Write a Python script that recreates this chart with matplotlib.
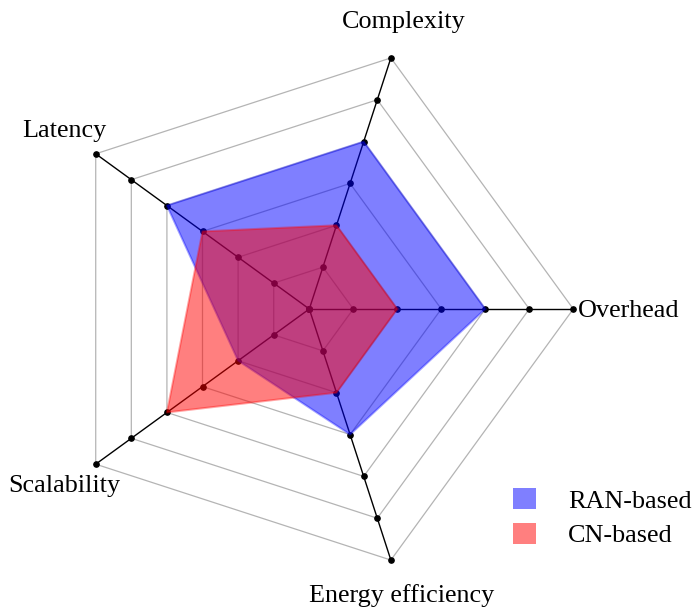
import numpy as np
import matplotlib
matplotlib.use("Agg")
import matplotlib.pyplot as plt
from matplotlib.patches import Patch

categories = ["Overhead", "Complexity", "Latency", "Scalability", "Energy efficiency"]
ran_based = [4, 4, 4, 2, 3]
cn_based = [2, 2, 3, 4, 2]
levels = [0, 1, 2, 3, 4, 5, 6]

plt.rcParams["font.family"] = ["Liberation Serif", "DejaVu Serif"]

n = len(categories)
angles = np.linspace(0, 2 * np.pi, n, endpoint=False)
ang_closed = np.append(angles, angles[0])

fig = plt.figure(figsize=(6.97, 6.11), dpi=100)
# center at (309, 309) px, outer radius 264 px
ax = fig.add_axes([45.3 / 697, 38 / 611, 528 / 697, 528 / 611], projection="polar")
ax.set_ylim(0, 6)
ax.grid(False)
ax.spines["polar"].set_visible(False)
ax.set_xticks([])
ax.set_yticks([])
ax.patch.set_visible(False)

# grey pentagon rings
for lv in levels[1:]:
    ax.plot(ang_closed, [lv] * (n + 1), color="#b4b4b4", lw=0.9, zorder=1)

# black spokes with dots
for a in angles:
    ax.plot([a] * len(levels), levels, color="black", lw=1.0, marker="o",
            markersize=3.8, zorder=2, clip_on=False)

# data polygons
for vals, col in [(ran_based, (0, 0, 1)), (cn_based, (1, 0, 0))]:
    v = vals + vals[:1]
    ax.fill(ang_closed, v, color=col, alpha=0.5, lw=0, zorder=3)
    ax.plot(ang_closed, v, color=col, alpha=0.35, lw=1.5, zorder=3)

# axis labels (angle in degrees, radius, ha)
label_pos = {
    "Overhead": (-1.7, 6.11, "left"),
    "Complexity": (71.47, 6.736, "center"),
    "Latency": (144.93, 6.80, "center"),
    "Scalability": (216.7, 6.955, "center"),
    "Energy efficiency": (287.47, 6.98, "center"),
}
for name in categories:
    a, r, ha = label_pos[name]
    ax.text(np.deg2rad(a), r, name, ha=ha, va="baseline", fontsize=18.8, clip_on=False)

handles = [Patch(facecolor=(0, 0, 1), alpha=0.5, edgecolor="none", label="RAN-based"),
           Patch(facecolor=(1, 0, 0), alpha=0.5, edgecolor="none", label="CN-based")]
fig.legend(handles=handles, loc="lower right", bbox_to_anchor=(1.0143, 0.0785),
           frameon=False, fontsize=18.8, handlelength=0.9, handleheight=0.9,
           handletextpad=1.2, labelspacing=0.38, borderaxespad=0.2)

fig.savefig("out.png", dpi=100)
